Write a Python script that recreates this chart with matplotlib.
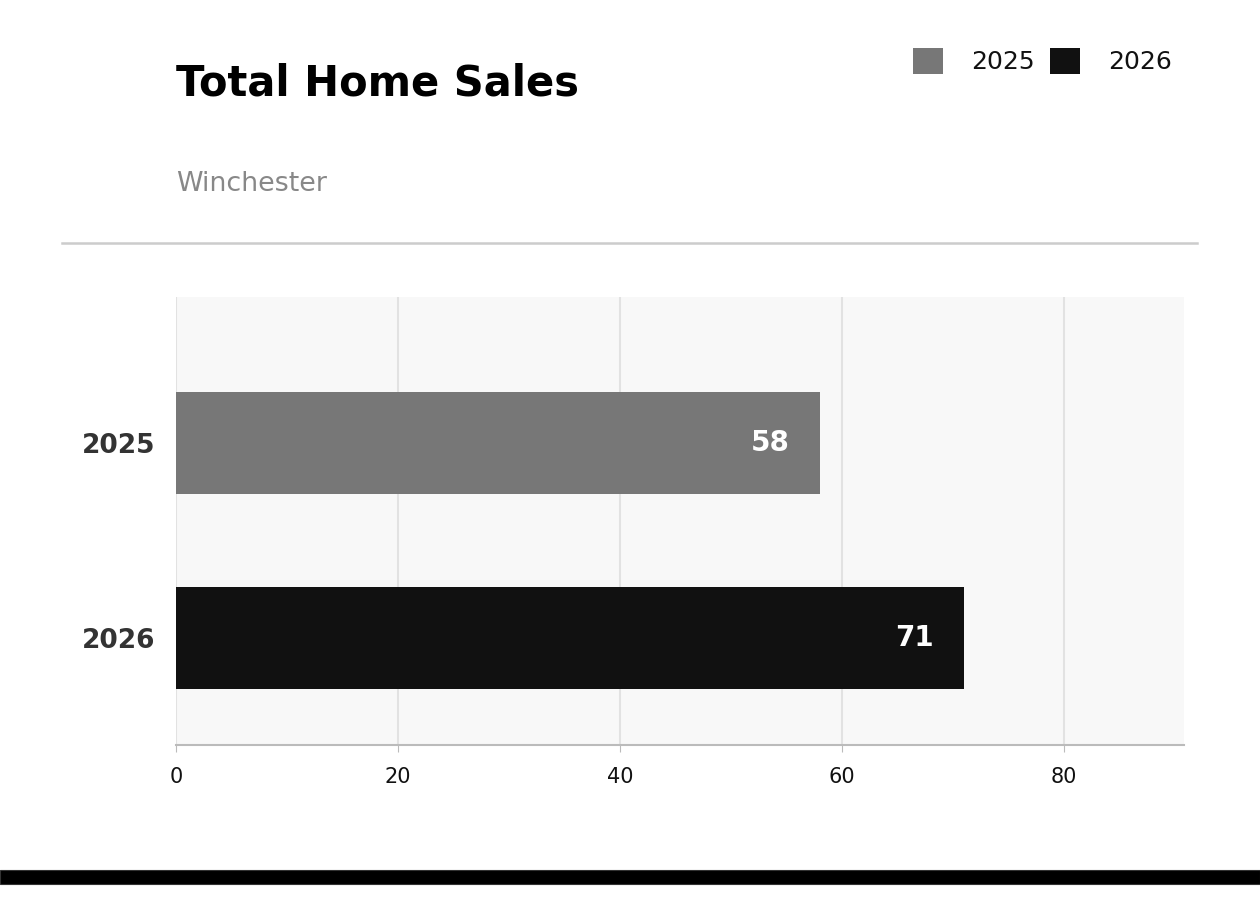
import matplotlib.pyplot as plt
from matplotlib.patches import Rectangle
from matplotlib.lines import Line2D

years = ['2025', '2026']
sales = [58, 71]
colors = ['#777777', '#111111']
title = 'Total Home Sales'
subtitle = 'Winchester'

W, H = 1260, 899
fig = plt.figure(figsize=(W / 100, H / 100), dpi=100)
fig.patch.set_facecolor('white')

# axes box in pixels: left 176, right 1184, top 297, bottom 745
ax = fig.add_axes([176 / W, 1 - 745 / H, (1184 - 176) / W, (745 - 297) / H])
ax.set_facecolor('#f8f8f8')

pos = list(range(len(years)))
bars = ax.barh(pos, sales, height=0.52, color=colors, zorder=3)
ax.set_xlim(0, 90.8)
ax.set_ylim(1.549, -0.749)

ax.set_xticks([0, 20, 40, 60, 80])
ax.tick_params(axis='x', labelsize=15, length=5, color='#bbbbbb', pad=11, labelcolor='#111111')
ax.set_yticks(pos)
ax.set_yticklabels(years, fontsize=19, fontweight='bold', color='#333333')
ax.tick_params(axis='y', length=0, pad=14.5)
ax.grid(axis='x', color='#e2e2e2', linewidth=1.5, zorder=0)
for s in ['top', 'right', 'left']:
    ax.spines[s].set_visible(False)
ax.spines['bottom'].set_color('#bbbbbb')
ax.spines['bottom'].set_linewidth(1.5)

for b, v in zip(bars, sales):
    ax.annotate(str(v), (v, b.get_y() + b.get_height() / 2), xytext=(-22, 0),
                textcoords='offset points', ha='right', va='center',
                color='white', fontsize=20, fontweight='bold', zorder=4)

# title block
fig.text(176 / W, 1 - 84 / H, title, fontsize=30, fontweight='bold', color='black', va='center')
fig.text(176 / W, 1 - 184 / H, subtitle, fontsize=19.4, color='#888888', va='center')
fig.add_artist(Line2D([62 / W, 1197 / W], [1 - 243 / H, 1 - 243 / H], color='#cccccc', linewidth=1.8))

# legend
for x0, lab, c in [(913, years[0], colors[0]), (1050, years[1], colors[1])]:
    fig.add_artist(Rectangle((x0 / W, 1 - 74 / H), 30 / W, 26 / H, transform=fig.transFigure,
                             facecolor=c, edgecolor='none'))
    fig.text((x0 + 58) / W, 1 - 62 / H, lab, fontsize=18, color='#111111', va='center')

# bottom band
fig.add_artist(Rectangle((0, 1 - 884 / H), 1, 14 / H, transform=fig.transFigure,
                         facecolor='black', edgecolor='#333333', linewidth=0.8))

fig.savefig('out.png', dpi=100)
